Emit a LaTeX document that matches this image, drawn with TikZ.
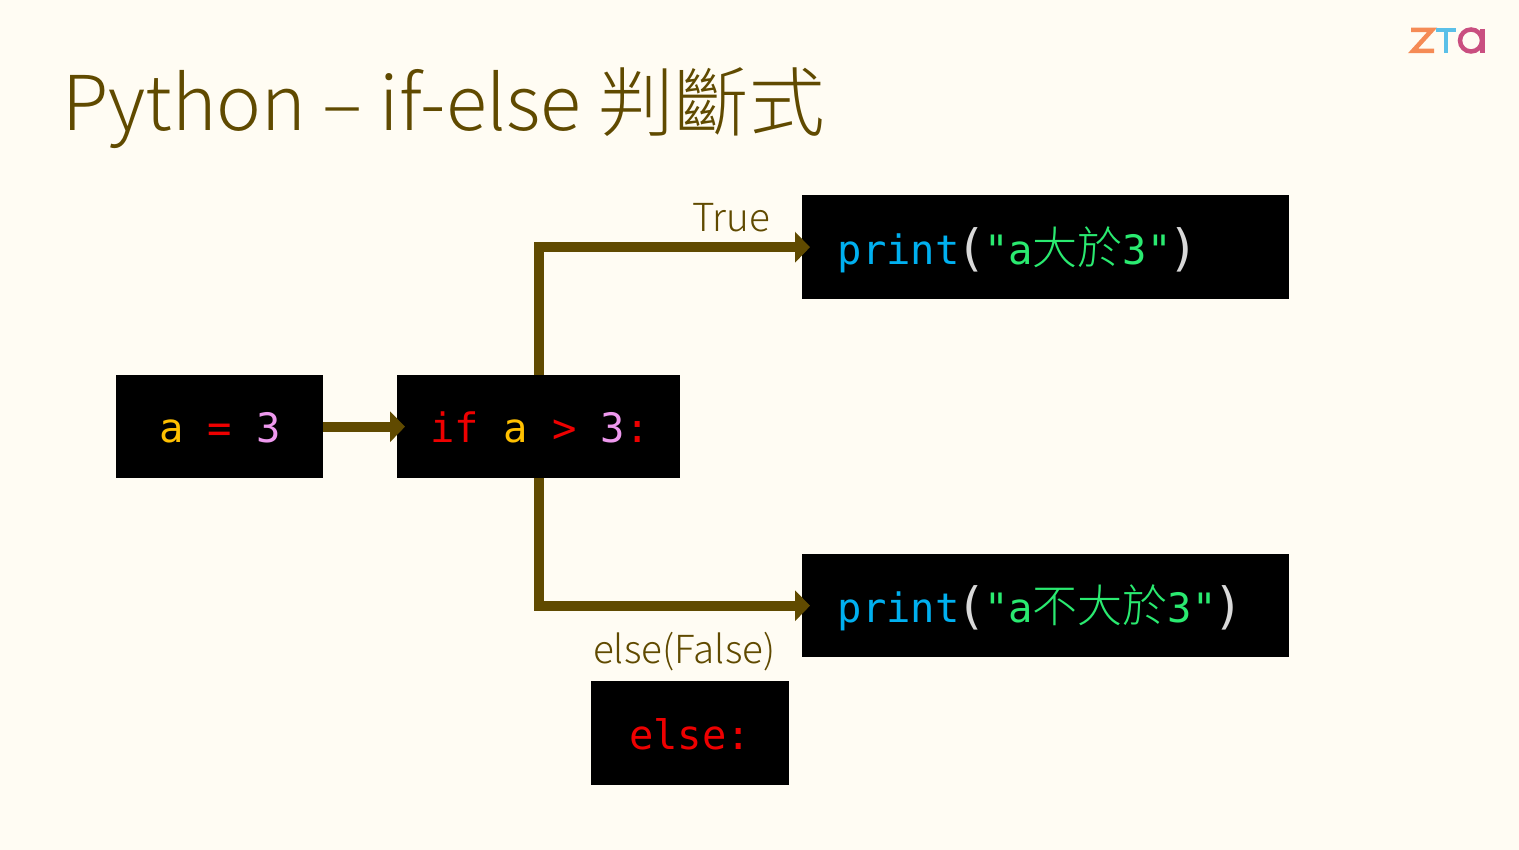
\documentclass[tikz,border=0pt]{standalone}
\usepackage{fontspec}
\usetikzlibrary{arrows.meta}
\setmainfont{Noto Sans CJK TC}[UprightFont=* Light]
\setmonofont{DejaVu Sans Mono}
\newfontfamily\cjkcode{Noto Sans CJK TC}[UprightFont=* Light]
\definecolor{paper}{HTML}{FFFCF3}
\definecolor{olive}{HTML}{604A00}
\definecolor{kwred}{HTML}{EE0000}
\definecolor{varyel}{HTML}{FFC000}
\definecolor{numpink}{HTML}{EE99EE}
\definecolor{fnblue}{HTML}{00B0F0}
\definecolor{strgreen}{HTML}{2AEA70}
\definecolor{parengray}{HTML}{D9D9D9}
\definecolor{zorange}{HTML}{F58B55}
\definecolor{zblue}{HTML}{5BC0E8}
\definecolor{zpink}{HTML}{C94F80}
\newcommand{\codecjk}[1]{{\fontsize{45}{45}\cjkcode #1}}
\newcommand{\codeparen}[1]{\makebox[24.4pt]{\textcolor{parengray}{\fontsize{50}{50}\selectfont\raisebox{-1pt}{#1}}}}
\tikzset{
	codebox/.style={fill=black,inner sep=0pt,anchor=north west},
	code/.style={font=\fontsize{40.5}{40.5}\ttfamily,inner sep=0pt,anchor=base west},
	caption/.style={font=\fontsize{38.6}{38.6}\selectfont,text=olive,inner sep=0pt,anchor=base west},
	flow/.style={draw=olive,line width=10pt,line join=miter,shorten >=-8pt,-{Triangle[length=15pt,width=30pt]}},
	logo/.style={line width=4.5pt,line cap=butt}
}
\begin{document}
\begin{tikzpicture}[x=1pt,y=-1pt]
	\useasboundingbox[fill=paper] (0,0) rectangle (1519,850);
	\node[inner sep=0pt,anchor=base west,text=olive,font=\fontsize{75.6}{75.6}\selectfont] (title) at (62,130.5) {Python – if-else 判斷式};
	% boxes
	\node[codebox,minimum width=207pt,minimum height=103pt] (assign) at (116,375) {};
	\node[codebox,minimum width=283pt,minimum height=103pt] (cond) at (397,375) {};
	\node[codebox,minimum width=487pt,minimum height=104pt] (yes) at (802,195) {};
	\node[codebox,minimum width=487pt,minimum height=103pt] (no) at (802,554) {};
	\node[codebox,minimum width=198pt,minimum height=104pt] (other) at (591,681) {};
	% code
	\node[code] (assigntxt) at (159,442.5) {\textcolor{varyel}{a} \textcolor{kwred}{=} \textcolor{numpink}{3}};
	\node[code] (condtxt) at (430,442.5) {\textcolor{kwred}{if} \textcolor{varyel}{a} \textcolor{kwred}{>} \textcolor{numpink}{3}\textcolor{kwred}{:}};
	\node[code] (yestxt) at (837.5,265) {\textcolor{fnblue}{print}\codeparen{(}\textcolor{strgreen}{"a\codecjk{大於}3"}\codeparen{)}};
	\node[code] (notxt) at (837.5,622.5) {\textcolor{fnblue}{print}\codeparen{(}\textcolor{strgreen}{"a\codecjk{不大於}3"}\codeparen{)}};
	\node[code] (othertxt) at (629,749.5) {\textcolor{kwred}{else:}};
	% labels
	\node[caption] (truelab) at (692,232) {True};
	\node[caption] (falselab) at (593,663) {else(False)};
	% connectors
	\draw[flow] (assign.east) -- (cond.west);
	\draw[flow] (cond.north) |- (yes.west);
	\draw[flow] (cond.south) |- (no.west);
	% logo
	\draw[logo,zorange] (1411,30) -- (1432,30) -- (1413,51) -- (1434,51);
	\draw[logo,zblue] (1436,30) -- (1456,30) (1446,30) -- (1446,53);
	\draw[logo,zpink] (1471,40.5) circle (11pt);
	\draw[logo,zpink] (1482.5,29) -- (1482.5,53);
\end{tikzpicture}
\end{document}
